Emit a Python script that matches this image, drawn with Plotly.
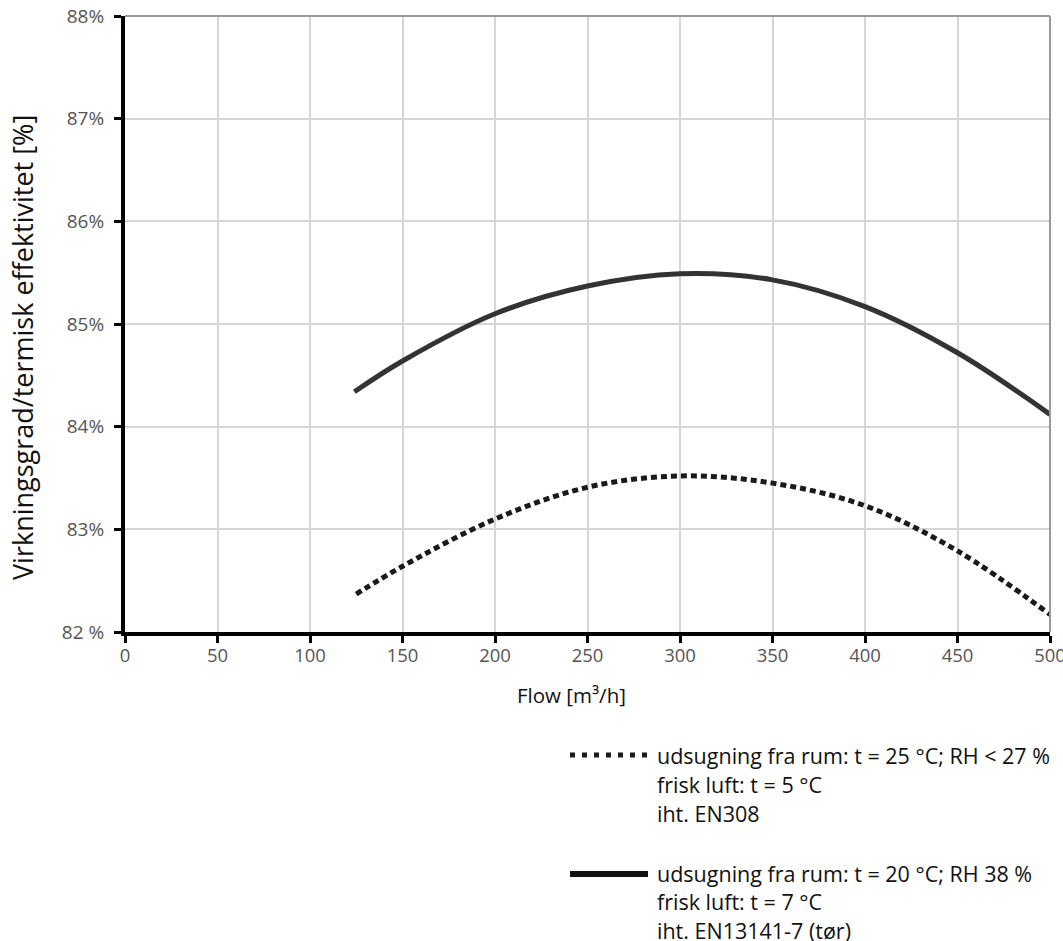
import plotly.graph_objects as go

# Data
flow_solid = [124, 150, 200, 250, 300, 350, 400, 450, 500]
eff_solid = [84.34, 84.64, 85.10, 85.37, 85.49, 85.43, 85.17, 84.72, 84.12]

flow_dotted = [125, 150, 200, 250, 300, 350, 400, 450, 500]
eff_dotted = [82.37, 82.64, 83.10, 83.41, 83.52, 83.45, 83.23, 82.79, 82.17]

x_ticks = [0, 50, 100, 150, 200, 250, 300, 350, 400, 450, 500]
y_ticks = [82, 83, 84, 85, 86, 87, 88]
y_ticktext = ["82 %", "83%", "84%", "85%", "86%", "87%", "88%"]

legend_dotted = ["udsugning fra rum: t = 25 °C; RH < 27 %", "frisk luft: t = 5 °C", "iht. EN308"]
legend_solid = ["udsugning fra rum: t = 20 °C; RH 38 %", "frisk luft: t = 7 °C", "iht. EN13141-7 (tør)"]

FONT = "Open Sans"
W, H = 1063, 941
ML, MR, MT, MB = 125, 13, 16, 309

fig = go.Figure()
fig.add_trace(go.Scatter(x=flow_solid, y=eff_solid, mode="lines",
                         line=dict(color="#333333", width=5, shape="spline"),
                         showlegend=False))
fig.add_trace(go.Scatter(x=flow_dotted, y=eff_dotted, mode="lines",
                         line=dict(color="#1a1a1a", width=5, dash="6px,4px", shape="spline"),
                         showlegend=False))

def px_to_paper_x(px):
    return (px - ML) / (W - ML - MR)

def px_to_paper_y(py):
    return 1 - (py - MT) / (H - MT - MB)

shapes = [
    # top and right gray borders
    dict(type="line", xref="paper", yref="paper", x0=0, x1=1, y0=1, y1=1,
         line=dict(color="#9a9a9a", width=2)),
    dict(type="line", xref="paper", yref="paper", x0=1, x1=1, y0=0, y1=1,
         line=dict(color="#9a9a9a", width=2)),
    # legend samples
    dict(type="line", xref="paper", yref="paper",
         x0=px_to_paper_x(570), x1=px_to_paper_x(652),
         y0=px_to_paper_y(755), y1=px_to_paper_y(755),
         line=dict(color="#1a1a1a", width=5, dash="5px,7px")),
    dict(type="line", xref="paper", yref="paper",
         x0=px_to_paper_x(570), x1=px_to_paper_x(648),
         y0=px_to_paper_y(874), y1=px_to_paper_y(874),
         line=dict(color="#111111", width=6)),
]

annotations = [
    dict(text="Flow [m³/h]", xref="paper", yref="paper",
         x=px_to_paper_x(571), y=px_to_paper_y(695), showarrow=False,
         xanchor="center", yanchor="middle", font=dict(family=FONT, size=20.5, color="#111")),
    dict(text="Virkningsgrad/termisk effektivitet [%]", xref="paper", yref="paper",
         x=px_to_paper_x(22), y=px_to_paper_y(348), showarrow=False, textangle=-90,
         xanchor="center", yanchor="middle", font=dict(family=FONT, size=27, color="#111")),
]
for i, t in enumerate(legend_dotted):
    annotations.append(dict(text=t, xref="paper", yref="paper",
                            x=px_to_paper_x(655), y=px_to_paper_y(755 + i * 29),
                            showarrow=False, xanchor="left", yanchor="middle",
                            font=dict(family=FONT, size=21.5, color="#111")))
for i, t in enumerate(legend_solid):
    annotations.append(dict(text=t, xref="paper", yref="paper",
                            x=px_to_paper_x(655), y=px_to_paper_y(873 + i * 28.5),
                            showarrow=False, xanchor="left", yanchor="middle",
                            font=dict(family=FONT, size=21.5, color="#111")))

fig.update_layout(
    width=W, height=H,
    margin=dict(l=ML, r=MR, t=MT, b=MB, pad=0, autoexpand=False),
    paper_bgcolor="white", plot_bgcolor="white",
    font=dict(family=FONT),
    shapes=shapes, annotations=annotations,
    xaxis=dict(range=[0, 500], tickvals=x_ticks, showgrid=True, gridcolor="#d6d6d6", gridwidth=1.5,
               zeroline=False, showline=True, linecolor="black", linewidth=4,
               ticks="outside", ticklen=7, tickwidth=3, tickcolor="black",
               ticklabelstandoff=-3, ticklabeloverflow="allow",
               tickfont=dict(family=FONT, size=18.5, color="#555555"), fixedrange=True),
    yaxis=dict(range=[82, 88], tickvals=y_ticks, ticktext=y_ticktext,
               showgrid=True, gridcolor="#d6d6d6", gridwidth=1.5,
               zeroline=False, showline=True, linecolor="black", linewidth=4,
               ticks="outside", ticklen=7, tickwidth=3, tickcolor="black",
               ticklabelstandoff=6,
               tickfont=dict(family=FONT, size=19, color="#555555"), fixedrange=True),
)

fig.write_html("out.html")
